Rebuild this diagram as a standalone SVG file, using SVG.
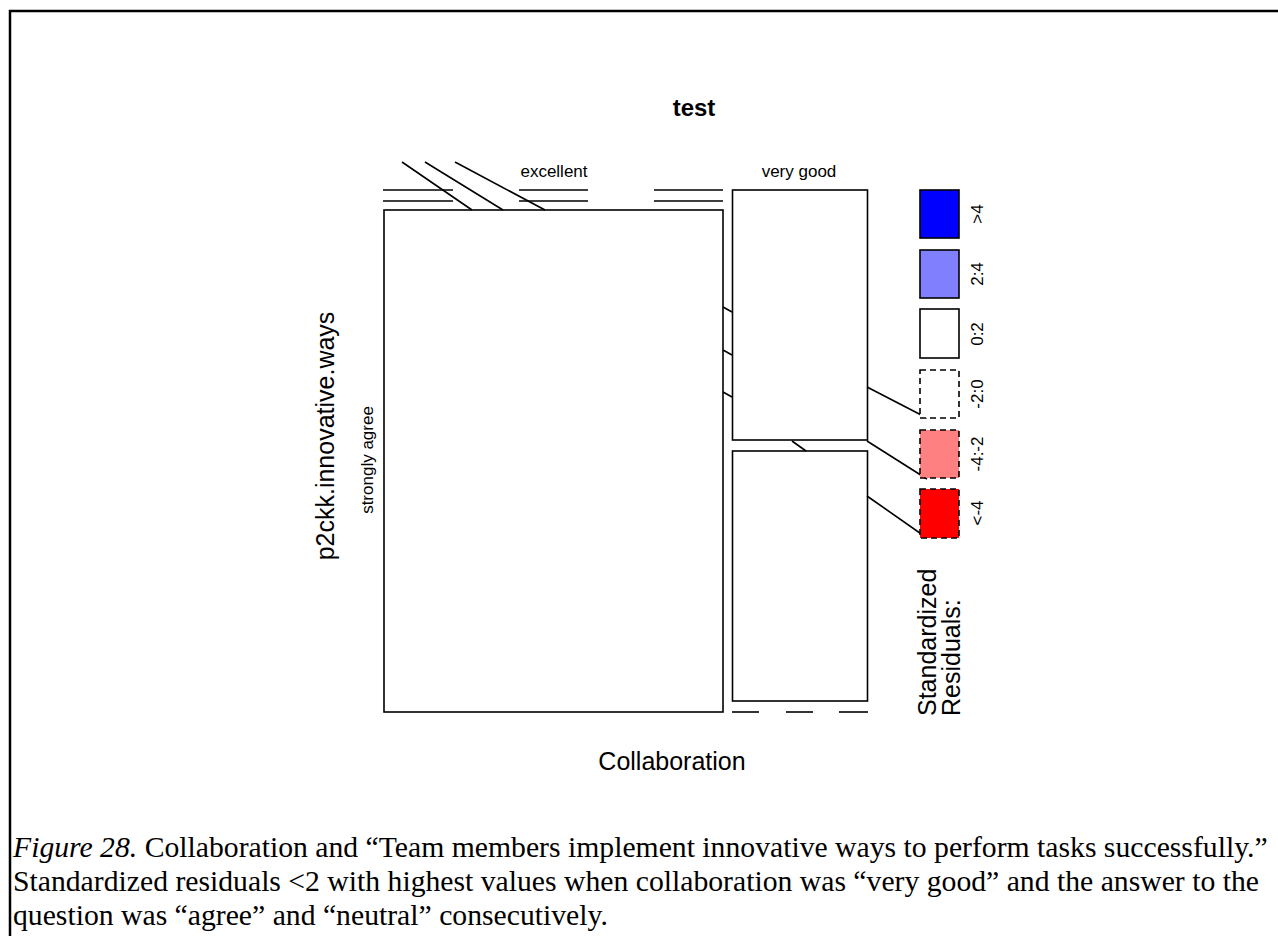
<svg xmlns="http://www.w3.org/2000/svg" width="1278" height="936" viewBox="0 0 1278 936">
  <style>
    .ln { stroke: #000; stroke-width: 1.6; fill: none; }
    .box { stroke: #000; stroke-width: 1.6; fill: #fff; }
    .dash { stroke: #000; stroke-width: 1.6; stroke-dasharray: 6 4; }
    .sans { font-family: "Liberation Sans", Arial, sans-serif; fill: #000; }
    .lvl { font-size: 17px; }
    .axis { font-size: 25px; }
    .cap { font-family: "Liberation Serif", "Times New Roman", serif; font-size: 29.7px; fill: #000; }
  </style>

  <rect width="1278" height="936" fill="#fff"/>
  <!-- frame -->
  <rect x="10" y="11" width="1280" height="940" fill="none" stroke="#000" stroke-width="2.5"/>

  <!-- title -->
  <text class="sans" x="694" y="116" font-size="24" font-weight="bold" text-anchor="middle">test</text>

  <!-- cells -->
  <g id="cell-excellent-strongly-agree">
    <rect class="box" x="384" y="210" width="339" height="502"/>
  </g>
  <g id="cell-very-good-strongly-agree">
    <rect class="box" x="732.5" y="190" width="135" height="250"/>
  </g>
  <g id="cell-very-good-agree">
    <rect class="box" x="732.5" y="451" width="135" height="250"/>
  </g>

  <!-- empty cells drawn as collapsed lines, plus legend leaders -->
  <g id="connectors">
    <line class="ln" x1="383" y1="190" x2="453" y2="190"/>
    <line class="ln" x1="383" y1="201" x2="453" y2="201"/>
    <line class="ln" x1="519" y1="190" x2="588" y2="190"/>
    <line class="ln" x1="519" y1="201" x2="588" y2="201"/>
    <line class="ln" x1="654" y1="190" x2="723" y2="190"/>
    <line class="ln" x1="654" y1="201" x2="723" y2="201"/>
    <line class="ln" x1="402" y1="162" x2="472" y2="210"/>
    <line class="ln" x1="425" y1="162" x2="503" y2="210"/>
    <line class="ln" x1="455" y1="162" x2="545" y2="210"/>

    <line class="ln" x1="723" y1="307" x2="732" y2="312"/>
    <line class="ln" x1="723" y1="350" x2="732" y2="355"/>
    <line class="ln" x1="723" y1="392" x2="732" y2="397"/>
    <line class="ln" x1="792" y1="441" x2="806" y2="451"/>

    <line class="ln" x1="732" y1="712" x2="759" y2="712"/>
    <line class="ln" x1="786" y1="712" x2="813" y2="712"/>
    <line class="ln" x1="839" y1="712" x2="868" y2="712"/>

    <line class="ln" x1="867" y1="387" x2="927" y2="418"/>
    <line class="ln" x1="867" y1="441" x2="927" y2="479"/>
    <line class="ln" x1="867" y1="496" x2="927" y2="538"/>
  </g>

  <!-- level labels -->
  <text class="sans lvl" x="554" y="177" text-anchor="middle">excellent</text>
  <text class="sans lvl" x="799" y="177" text-anchor="middle">very good</text>
  <text class="sans lvl" text-anchor="middle" transform="translate(373 460) rotate(-90)">strongly agree</text>

  <!-- axis labels -->
  <text class="sans axis" text-anchor="middle" transform="translate(334 436) rotate(-90)">p2ckk.innovative.ways</text>
  <text class="sans axis" x="672" y="770" text-anchor="middle">Collaboration</text>

  <!-- legend -->
  <g id="legend">
    <rect x="920" y="190" width="39" height="48" fill="#0000ff" stroke="#000" stroke-width="1.6"/>
    <rect x="920" y="250" width="39" height="48" fill="#8080ff" stroke="#000" stroke-width="1.6"/>
    <rect x="920" y="309" width="39" height="49" fill="#fff" stroke="#000" stroke-width="1.6"/>
    <rect x="920" y="370" width="39" height="48" fill="#fff" class="dash"/>
    <rect x="920" y="430" width="39" height="48" fill="#ff8080" class="dash"/>
    <rect x="920" y="489" width="39" height="49" fill="#ff0000" class="dash"/>
    <text class="sans lvl" text-anchor="middle" transform="translate(983 214) rotate(-90)">&gt;4</text>
    <text class="sans lvl" text-anchor="middle" transform="translate(983 274) rotate(-90)">2:4</text>
    <text class="sans lvl" text-anchor="middle" transform="translate(983 334) rotate(-90)">0:2</text>
    <text class="sans lvl" text-anchor="middle" transform="translate(983 394) rotate(-90)">-2:0</text>
    <text class="sans lvl" text-anchor="middle" transform="translate(983 454) rotate(-90)">-4:-2</text>
    <text class="sans lvl" text-anchor="middle" transform="translate(983 513) rotate(-90)">&lt;-4</text>
    <text class="sans axis" transform="translate(936 716) rotate(-90)">Standardized</text>
    <text class="sans axis" transform="translate(960 716) rotate(-90)">Residuals:</text>
  </g>

  <!-- caption -->
  <text class="cap" x="13" y="857"><tspan font-style="italic">Figure 28.</tspan> Collaboration and “Team members implement innovative ways to perform tasks successfully.”</text>
  <text class="cap" x="13" y="891">Standardized residuals &lt;2 with highest values when collaboration was “very good” and the answer to the</text>
  <text class="cap" x="13" y="925">question was “agree” and “neutral” consecutively.</text>
</svg>
